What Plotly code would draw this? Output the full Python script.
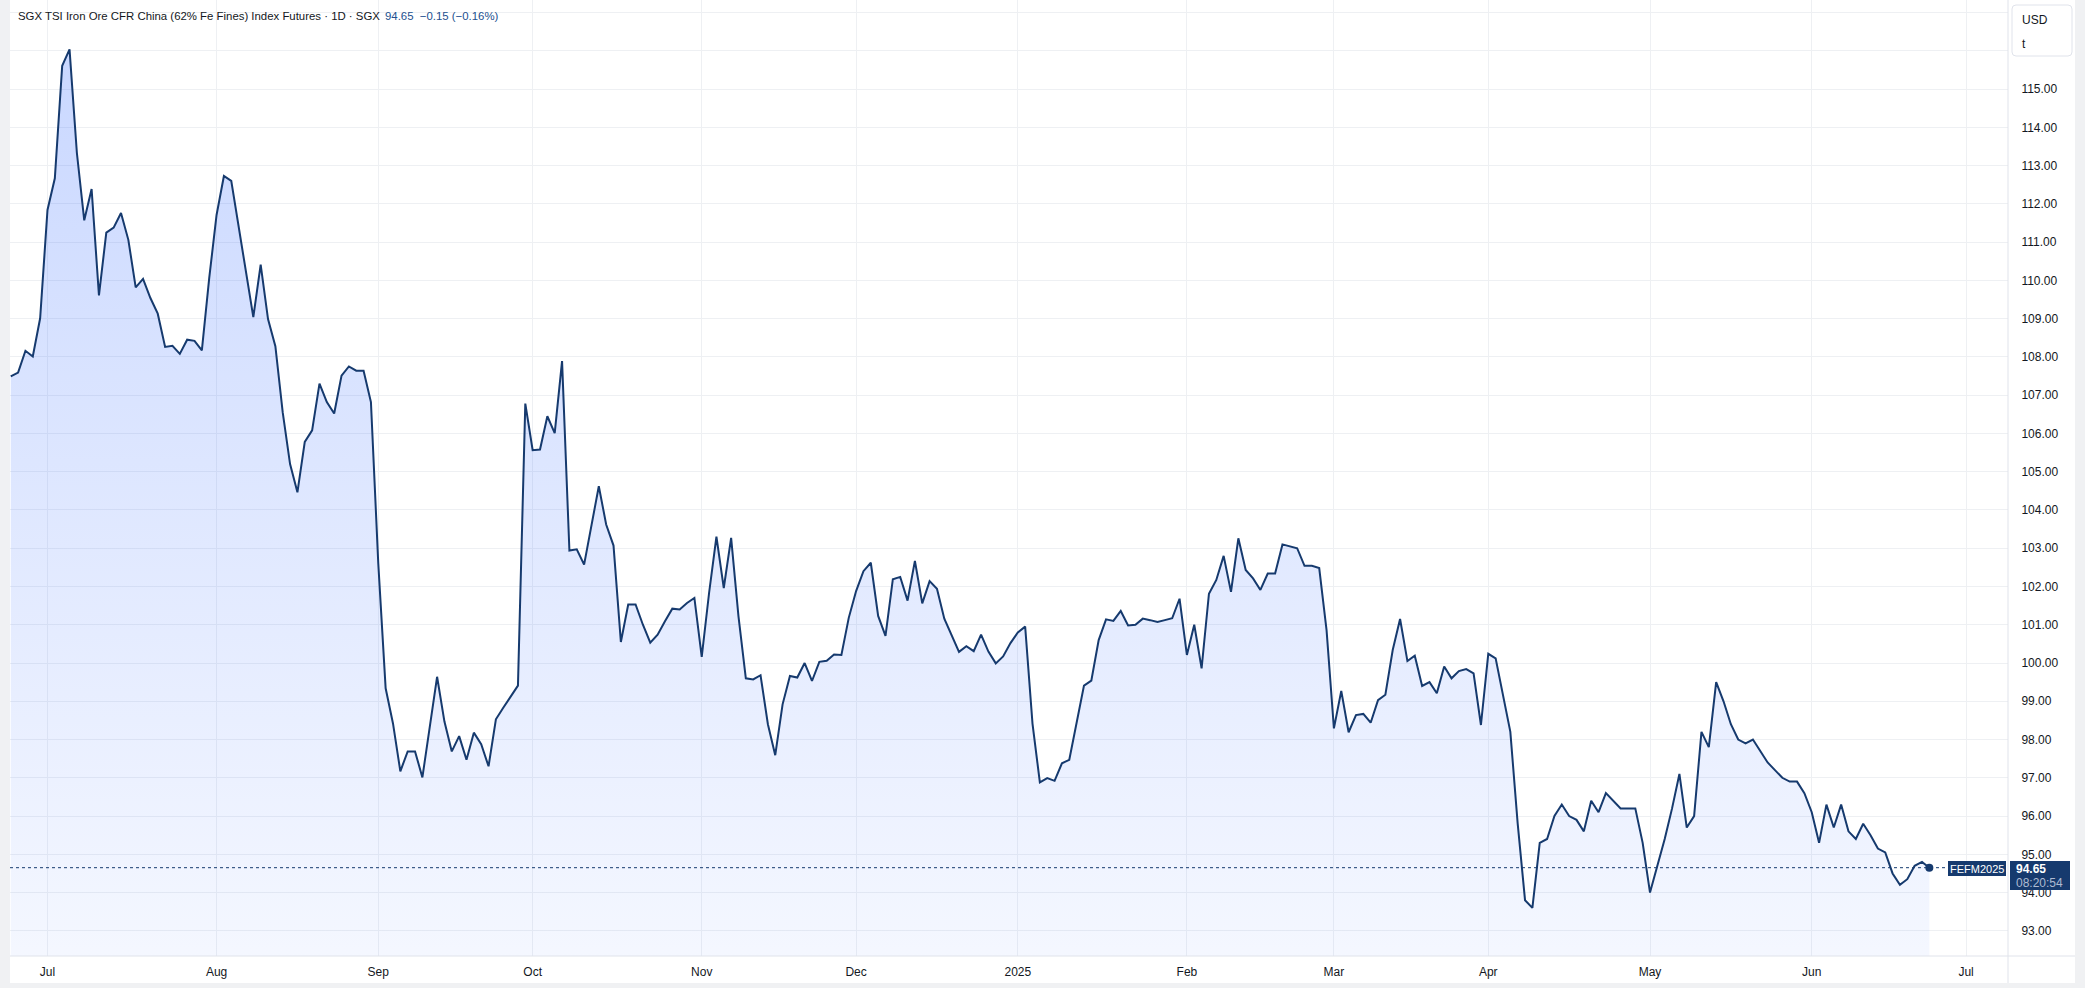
import pandas as pd
import plotly.graph_objects as go

# ---------------- data ----------------
start_date = "2024-06-24"
prices = [
    107.49, 107.59, 108.16, 108.01, 109.01, 111.84, 112.67, 115.61, 116.04, 113.33,
    111.57, 112.39, 109.61, 111.25, 111.38, 111.76, 111.06, 109.82, 110.04, 109.54,
    109.13, 108.26, 108.29, 108.08, 108.45, 108.42, 108.17, 110.06, 111.71, 112.73,
    112.60, 111.41, 110.28, 109.04, 110.41, 108.99, 108.28, 106.55, 105.20, 104.46,
    105.78, 106.08, 107.30, 106.82, 106.52, 107.51, 107.75, 107.64, 107.64, 106.82,
    102.60, 99.34, 98.42, 97.17, 97.69, 97.69, 97.01, 98.37, 99.64, 98.47,
    97.69, 98.09, 97.47, 98.18, 97.88, 97.30, 98.53, 98.83, 99.13, 99.41,
    106.78, 105.56, 105.58, 106.45, 106.01, 107.89, 102.94, 102.97, 102.57, 103.62,
    104.62, 103.62, 103.07, 100.55, 101.53, 101.53, 101.00, 100.53, 100.74, 101.09,
    101.42, 101.40, 101.57, 101.70, 100.16, 101.83, 103.30, 101.96, 103.27, 101.22,
    99.60, 99.57, 99.68, 98.40, 97.59, 98.92, 99.66, 99.62, 100.00, 99.53,
    100.03, 100.06, 100.22, 100.21, 101.18, 101.88, 102.40, 102.62, 101.23, 100.71,
    102.19, 102.25, 101.63, 102.67, 101.56, 102.14, 101.94, 101.16, 100.71, 100.29,
    100.44, 100.31, 100.74, 100.30, 99.99, 100.17, 100.52, 100.80, 100.95, 98.41,
    96.88, 96.99, 96.92, 97.38, 97.47, 98.43, 99.41, 99.54, 100.60, 101.14,
    101.10, 101.36, 100.98, 101.00, 101.16, 101.12, 101.07, 101.12, 101.17, 101.68,
    100.21, 101.00, 99.86, 101.81, 102.17, 102.80, 101.86, 103.26, 102.43, 102.21,
    101.91, 102.34, 102.34, 103.10, 103.04, 103.00, 102.54, 102.54, 102.48, 100.86,
    98.29, 99.27, 98.19, 98.64, 98.67, 98.44, 99.03, 99.17, 100.34, 101.15,
    100.05, 100.19, 99.40, 99.50, 99.21, 99.91, 99.60, 99.79, 99.84, 99.73,
    98.38, 100.24, 100.12, 99.20, 98.20, 95.80, 93.80, 93.60, 95.30, 95.40,
    96.00, 96.30, 96.00, 95.90, 95.60, 96.40, 96.10, 96.60, 96.40, 96.20,
    96.20, 96.20, 95.30, 94.00, 94.70, 95.40, 96.20, 97.10, 95.70, 96.00,
    98.20, 97.80, 99.50, 99.00, 98.40, 98.00, 97.90, 98.00, 97.70, 97.40,
    97.20, 97.00, 96.90, 96.90, 96.60, 96.10, 95.30, 96.30, 95.70, 96.30,
    95.60, 95.40, 95.80, 95.50, 95.15, 95.05, 94.50, 94.20, 94.35, 94.70,
    94.80, 94.65,
]
last_price = 94.65
change_abs = -0.15
change_pct = -0.16
symbol = "FEFM2025"
countdown = "08:20:54"
title_text = "SGX TSI Iron Ore CFR China (62% Fe Fines) Index Futures · 1D · SGX"
currency_lines = ["USD", "t"]
price_ticks = list(range(93, 118))

# ---------------- derived ----------------
dates = pd.bdate_range(start_date, periods=len(prices))
x_idx = list(range(len(prices)))

all_days = pd.bdate_range(start_date, "2025-07-31")
tick_idx, tick_txt = [], []
prev = None
for i, d in enumerate(all_days):
    key = (d.year, d.month)
    if key != prev:
        if prev is not None:
            tick_idx.append(i)
            tick_txt.append(str(d.year) if d.month == 1 else d.strftime("%b"))
        prev = key

NAVY = "#163a6e"
TXT = "#131722"
GRID = "#eef0f3"
BORDER = "#e0e3eb"
FRAME = "#f0f1f3"

W, H = 2085, 988
L, R, T, B = 10, 2008, 0, 956


def px(X):
    return (X - L) / (R - L)


def py(Y):
    return (B - Y) / (B - T)


fig = go.Figure()
fig.add_trace(go.Scatter(
    x=x_idx, y=prices, mode="lines",
    line=dict(color=NAVY, width=2),
    fill="tozeroy",
    fillgradient=dict(
        type="vertical",
        colorscale=[[0, "rgba(41,98,255,0.05)"], [1, "rgba(41,98,255,0.25)"]],
        start=92.34, stop=max(prices),
    ),
    hoverinfo="skip", showlegend=False,
))
fig.add_trace(go.Scatter(
    x=[x_idx[-1]], y=[prices[-1]], mode="markers",
    marker=dict(size=8, color=NAVY), showlegend=False, hoverinfo="skip",
))

shapes = []
# last price dotted line
shapes.append(dict(type="line", xref="paper", yref="y", x0=0, x1=1,
                   y0=last_price, y1=last_price,
                   line=dict(color=NAVY, width=1, dash="dot"), layer="above"))
# frame strips
shapes.append(dict(type="rect", xref="paper", yref="paper", x0=px(0), x1=px(L),
                   y0=py(H), y1=py(0), fillcolor=FRAME, line=dict(width=0)))
shapes.append(dict(type="rect", xref="paper", yref="paper", x0=px(2075), x1=px(W),
                   y0=py(H), y1=py(0), fillcolor=FRAME, line=dict(width=0)))
shapes.append(dict(type="rect", xref="paper", yref="paper", x0=px(0), x1=px(W),
                   y0=py(H), y1=py(983), fillcolor=FRAME, line=dict(width=0)))
# axis separators
shapes.append(dict(type="line", xref="paper", yref="paper", x0=px(L), x1=px(2075),
                   y0=py(B), y1=py(B), line=dict(color=BORDER, width=1)))
shapes.append(dict(type="line", xref="paper", yref="paper", x0=px(R), x1=px(R),
                   y0=py(0), y1=py(983), line=dict(color=BORDER, width=1)))
# USD / t box
bx0, bx1, by0, by1, rr = 2012, 2072, 5, 56, 4
path = (f"M {px(bx0+rr)} {py(by0)} L {px(bx1-rr)} {py(by0)} "
        f"Q {px(bx1)} {py(by0)} {px(bx1)} {py(by0+rr)} L {px(bx1)} {py(by1-rr)} "
        f"Q {px(bx1)} {py(by1)} {px(bx1-rr)} {py(by1)} L {px(bx0+rr)} {py(by1)} "
        f"Q {px(bx0)} {py(by1)} {px(bx0)} {py(by1-rr)} L {px(bx0)} {py(by0+rr)} "
        f"Q {px(bx0)} {py(by0)} {px(bx0+rr)} {py(by0)} Z")
shapes.append(dict(type="path", xref="paper", yref="paper", path=path,
                   fillcolor="white", line=dict(color=BORDER, width=1), layer="above"))
# symbol label box
shapes.append(dict(type="rect", xref="paper", yref="paper", x0=px(1948), x1=px(2006),
                   y0=py(876), y1=py(861), fillcolor=NAVY, line=dict(width=0), layer="above"))
# price label box
shapes.append(dict(type="rect", xref="paper", yref="paper", x0=px(2010), x1=px(2070),
                   y0=py(890), y1=py(861), fillcolor=NAVY, line=dict(width=0), layer="above"))

ann = []
FONT = "Liberation Sans, Arial, sans-serif"
ann.append(dict(xref="paper", yref="paper", x=px(16), y=py(16), xanchor="left", yanchor="middle",
                text=title_text, showarrow=False, font=dict(family=FONT, size=11.4, color=TXT)))
ann.append(dict(xref="paper", yref="paper", x=px(383), y=py(16), xanchor="left", yanchor="middle",
                text=f"{last_price:.2f}&nbsp;&nbsp;\u2212{abs(change_abs):.2f} (\u2212{abs(change_pct):.2f}%)",
                showarrow=False, font=dict(family=FONT, size=11.4, color="#22508f")))
ann.append(dict(xref="paper", yref="paper", x=px(2020), y=py(20), xanchor="left", yanchor="middle",
                text=currency_lines[0], showarrow=False, font=dict(family=FONT, size=12, color=TXT)))
ann.append(dict(xref="paper", yref="paper", x=px(2020), y=py(44), xanchor="left", yanchor="middle",
                text=currency_lines[1], showarrow=False, font=dict(family=FONT, size=12, color=TXT)))
ann.append(dict(xref="paper", yref="paper", x=px(1977), y=py(868.5), xanchor="center", yanchor="middle",
                text=symbol, showarrow=False, font=dict(family=FONT, size=11, color="white")))
ann.append(dict(xref="paper", yref="paper", x=px(2014), y=py(868.5), xanchor="left", yanchor="middle",
                text=f"<b>{last_price:.2f}</b>", showarrow=False, font=dict(family=FONT, size=12, color="white")))
ann.append(dict(xref="paper", yref="paper", x=px(2014), y=py(883), xanchor="left", yanchor="middle",
                text=countdown, showarrow=False, font=dict(family=FONT, size=12, color="#aebbd2")))

fig.update_layout(
    width=W, height=H,
    margin=dict(l=L, r=W - R, t=T, b=H - B, pad=0),
    paper_bgcolor="white", plot_bgcolor="white",
    shapes=shapes, annotations=ann,
    showlegend=False,
    xaxis=dict(
        range=[-0.1, 271.7], tickvals=tick_idx, ticktext=tick_txt,
        showgrid=True, gridcolor=GRID, gridwidth=1, zeroline=False,
        showline=False, ticks="outside", ticklen=5, tickcolor="rgba(0,0,0,0)",
        tickfont=dict(family=FONT, size=12, color=TXT), fixedrange=True,
    ),
    yaxis=dict(
        side="right", range=[92.342, 117.329],
        tickvals=price_ticks,
        ticktext=[f"{v:.2f}" if v <= 115 else "" for v in price_ticks],
        showgrid=True, gridcolor=GRID, gridwidth=1, zeroline=False,
        showline=False, ticks="outside", ticklen=10, tickcolor="rgba(0,0,0,0)",
        tickfont=dict(family=FONT, size=12, color=TXT), fixedrange=True,
    ),
)

fig.write_html("out.html",
               config={"displayModeBar": False, "staticPlot": True},
               post_script="document.body.style.margin='0';document.body.style.padding='0';")
